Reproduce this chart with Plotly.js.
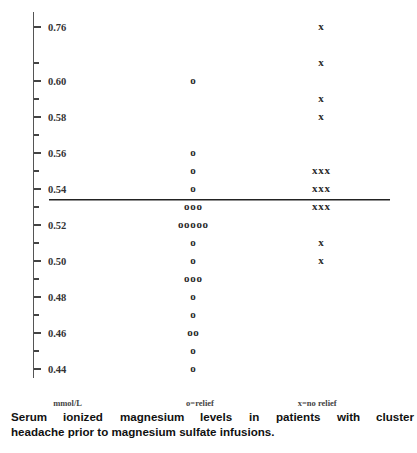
<!DOCTYPE html>
<html>
<head>
<meta charset="utf-8">
<script src="https://cdn.plot.ly/plotly-3.0.1.min.js"></script>
<style>html,body{margin:0;padding:0;background:#fff;}#chart{width:417px;height:453px;}</style>
</head>
<body>
<div id="chart"></div>
<script>
// Serum ionized magnesium (mmol/L), one entry per patient
const reliefValues = [0.60, 0.56, 0.55, 0.54, 0.53, 0.53, 0.53,
  0.52, 0.52, 0.52, 0.52, 0.52, 0.51, 0.50, 0.49, 0.49, 0.49,
  0.48, 0.47, 0.46, 0.46, 0.45, 0.44];
const noReliefValues = [0.76, 0.61, 0.59, 0.58, 0.55, 0.55, 0.55,
  0.54, 0.54, 0.54, 0.53, 0.53, 0.53, 0.51, 0.50];
const groupPositions = [1, 2];
const groupSymbols = ['o', 'x'];
const cutoffLine = 0.534;
const majorTickValues = [0.44, 0.46, 0.48, 0.50, 0.52, 0.54, 0.56, 0.58, 0.60, 0.76];
const majorTickLabels = ['0.44', '0.46', '0.48', '0.50', '0.52', '0.54', '0.56', '0.58', '0.60', '0.76'];
const minorTickValues = [0.45, 0.47, 0.49, 0.51, 0.53, 0.55, 0.57, 0.59, 0.61];
const xLabels = ['mmol/L', 'o=relief', 'x=no relief'];
const xLabelPositions = [0.02, 1.055, 1.97];
const captionLine1 = 'Serum ionized magnesium levels in patients with cluster';
const captionLine2 = 'headache prior to magnesium sulfate infusions.';

// broken axis: values above the break are drawn shifted down
const BREAK_FROM = 0.70, BREAK_SHIFT = 0.13;
function axisPos(v) { return v >= BREAK_FROM ? v - BREAK_SHIFT : v; }

const STEP = 0.048;
function stripTrace(values, xc, sym) {
  const counts = {}, idx = {};
  values.forEach(v => { const k = v.toFixed(3); counts[k] = (counts[k] || 0) + 1; });
  const xs = [], ys = [], ts = [];
  values.forEach(v => {
    const k = v.toFixed(3);
    const i = idx[k] || 0; idx[k] = i + 1;
    xs.push(xc + (i - (counts[k] - 1) / 2) * STEP);
    ys.push(axisPos(v));
    ts.push(sym);
  });
  return {
    type: 'scatter', mode: 'text', x: xs, y: ys, text: ts,
    textposition: 'middle center',
    textfont: {family: 'Liberation Serif', size: 11, color: '#2a2a2a', weight: 'bold'},
    hoverinfo: 'skip', showlegend: false, cliponaxis: false
  };
}

const data = [
  stripTrace(reliefValues, groupPositions[0], groupSymbols[0]),
  stripTrace(noReliefValues, groupPositions[1], groupSymbols[1])
];

// caption: first line justified across the figure width, as in the print
const W = 417, ML = 34, MR = 22, MT = 12, MB = 75;
const PW = W - ML - MR, PH = 453 - MT - MB;
const capFont = {family: 'Liberation Sans', size: 11.6, color: '#111', weight: 'bold'};
const capLeft = 10, capRight = 413, capY1 = 409, capY2 = 424;
const ctx = document.createElement('canvas').getContext('2d');
ctx.font = 'bold ' + capFont.size + 'px "Liberation Sans"';
const words = captionLine1.split(' ');
const widths = words.map(w => ctx.measureText(w).width);
const gap = (capRight - capLeft - widths.reduce((a, b) => a + b, 0)) / (words.length - 1);
const toPX = px => (px - ML) / PW;
const toPY = py => (453 - MB - py) / PH;
const annotations = [];
let cx = capLeft;
words.forEach((w, i) => {
  annotations.push({text: w, xref: 'paper', yref: 'paper', x: toPX(cx), y: toPY(capY1),
    xanchor: 'left', yanchor: 'top', showarrow: false, font: capFont, borderpad: 0});
  cx += widths[i] + gap;
});
annotations.push({text: captionLine2, xref: 'paper', yref: 'paper', x: toPX(capLeft), y: toPY(capY2),
  xanchor: 'left', yanchor: 'top', showarrow: false, font: capFont, borderpad: 0});

const layout = {
  width: W, height: 453,
  margin: {l: ML, r: MR, t: MT, b: MB},
  paper_bgcolor: '#fff', plot_bgcolor: '#fff',
  showlegend: false,
  xaxis: {
    range: [-0.242, 2.578], showline: false, showgrid: false, zeroline: false,
    ticks: '', tickvals: xLabelPositions, ticktext: xLabels,
    ticklabelstandoff: 18,
    tickfont: {family: 'Liberation Serif', size: 8.5, color: '#444', weight: 'bold'}
  },
  yaxis: {
    range: [0.435, 0.6383], showline: true, linecolor: '#555', linewidth: 1.5,
    showgrid: false, zeroline: false,
    ticks: 'inside', ticklen: 7, tickwidth: 1.2, tickcolor: '#444',
    ticklabelposition: 'inside', ticklabelstandoff: 6,
    tickvals: majorTickValues.map(axisPos), ticktext: majorTickLabels,
    tickfont: {family: 'Liberation Serif', size: 10.5, color: '#333', weight: 'bold'},
    minor: {tickvals: minorTickValues, ticks: 'inside', ticklen: 5, tickwidth: 1.2, tickcolor: '#444'}
  },
  shapes: [{
    type: 'line', xref: 'x', yref: 'y', x0: -0.125, x1: 2.539,
    y0: cutoffLine, y1: cutoffLine, line: {color: '#222', width: 1.5}
  }],
  annotations: annotations
};

Plotly.newPlot('chart', data, layout, {displayModeBar: false, staticPlot: true});
</script>
</body>
</html>
